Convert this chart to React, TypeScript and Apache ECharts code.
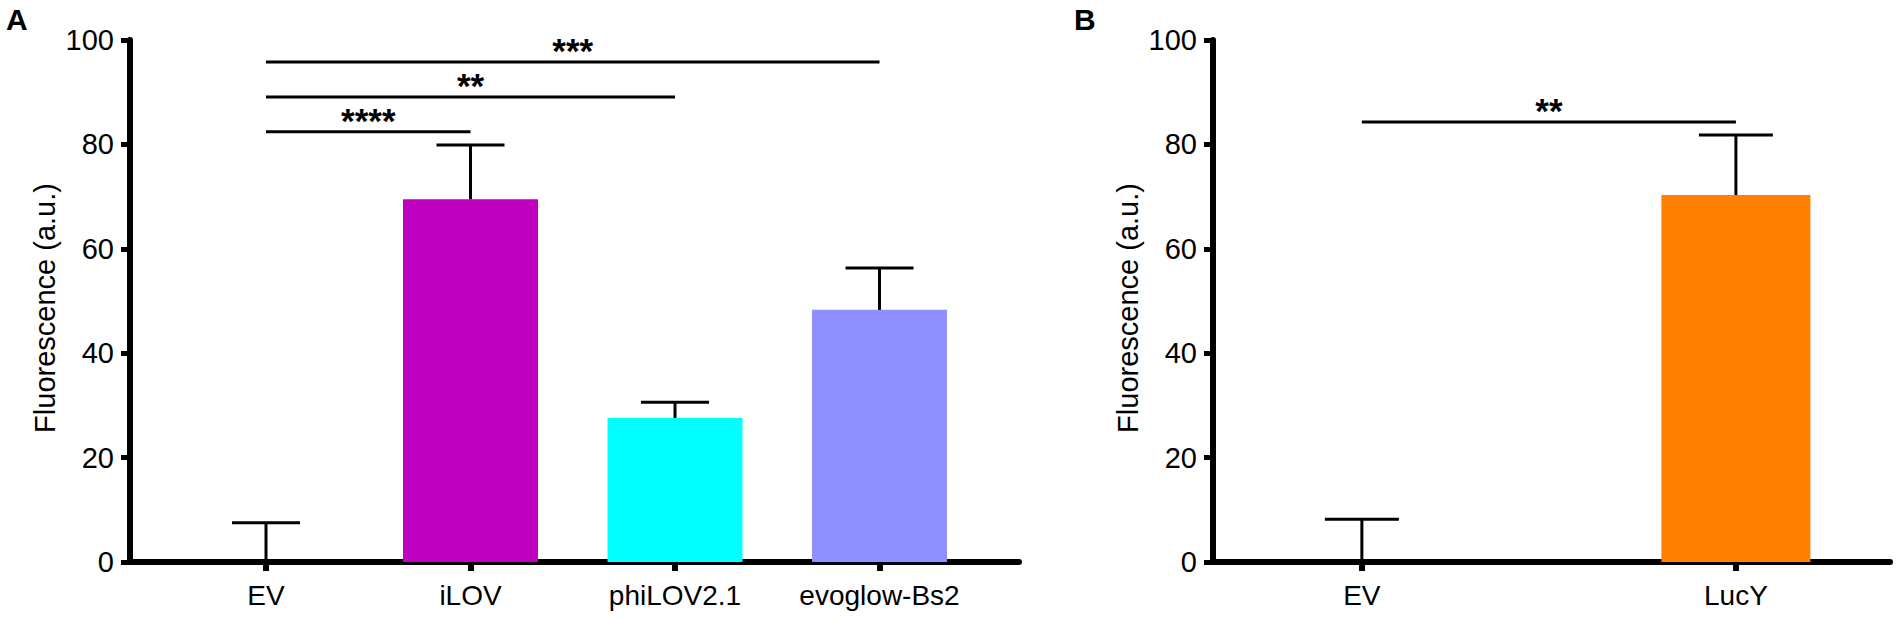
import React, { useEffect, useRef } from "react";
import * as echarts from "echarts";

const catsA = ["EV", "iLOV", "phiLOV2.1", "evoglow-Bs2"];
const meanA = [0, 69.5, 27.6, 48.3];
const errA = [7.5, 10.4, 3.0, 8.0];
const colorsA = ["#ffffff", "#BF00BF", "#00FFFF", "#8F8FFF"];

const catsB = ["EV", "LucY"];
const meanB = [0, 70.3];
const errB = [8.2, 11.5];
const colorsB = ["#ffffff", "#FF8000"];

const yTicks = [0, 20, 40, 60, 80, 100];

// significance brackets: from index, to index, height (a.u.), label
const sigFromA = [0, 0, 0];
const sigToA = [1, 2, 3];
const sigHeightA = [82.4, 89.1, 95.8];
const sigLabelA = ["****", "**", "***"];

const sigFromB = [0];
const sigToB = [1];
const sigHeightB = [84.3];
const sigLabelB = ["**"];

const FONT = "'Liberation Sans', Arial, Helvetica, sans-serif";

function errorSeries(gridIndex: number, means: number[], errs: number[], capHalf: number) {
  return {
    type: "custom",
    xAxisIndex: gridIndex,
    yAxisIndex: gridIndex,
    z: 5,
    silent: true,
    encode: { x: 0, y: 1 },
    data: means.map((m, i) => [i, m, errs[i]]),
    renderItem: (params: any, api: any) => {
      const x = api.value(0);
      const m = api.value(1);
      const e = api.value(2);
      const base = api.coord([x, m]);
      const top = api.coord([x, m + e]);
      const st = { stroke: "#000", lineWidth: 3 };
      return {
        type: "group",
        children: [
          { type: "line", shape: { x1: top[0], y1: base[1], x2: top[0], y2: top[1] }, style: st },
          { type: "line", shape: { x1: top[0] - capHalf, y1: top[1], x2: top[0] + capHalf, y2: top[1] }, style: st },
        ],
      };
    },
  };
}

function sigSeries(gridIndex: number, from: number[], to: number[], h: number[], labels: string[]) {
  return {
    type: "custom",
    xAxisIndex: gridIndex,
    yAxisIndex: gridIndex,
    z: 6,
    silent: true,
    encode: { x: [0, 1], y: 2 },
    data: from.map((f, i) => [f, to[i], h[i], i]),
    renderItem: (params: any, api: any) => {
      const p1 = api.coord([api.value(0), api.value(2)]);
      const p2 = api.coord([api.value(1), api.value(2)]);
      const label = labels[api.value(3)];
      return {
        type: "group",
        children: [
          { type: "line", shape: { x1: p1[0], y1: p1[1], x2: p2[0], y2: p2[1] }, style: { stroke: "#000", lineWidth: 3 } },
          {
            type: "text",
            x: (p1[0] + p2[0]) / 2,
            y: p1[1] + 6,
            style: {
              text: label,
              fontSize: 35,
              fontWeight: "bold",
              fontFamily: FONT,
              fill: "#000",
              align: "center",
              verticalAlign: "bottom",
              textAlign: "center",
              textVerticalAlign: "bottom",
            },
          },
        ],
      };
    },
  };
}

function xAxisCfg(gridIndex: number, cats: string[], min: number, max: number) {
  const idx = cats.map((_, i) => i);
  return {
    type: "value",
    gridIndex,
    min,
    max,
    splitLine: { show: false },
    axisLine: { show: true, onZero: false, lineStyle: { color: "#000", width: 6 } },
    axisTick: { show: true, customValues: idx, length: 9, lineStyle: { color: "#000", width: 6 } },
    axisLabel: {
      show: true,
      customValues: idx,
      formatter: (v: number) => cats[Math.round(v)] ?? "",
      color: "#000",
      fontSize: 28,
      fontFamily: FONT,
      margin: 19,
    },
  };
}

function yAxisCfg(gridIndex: number) {
  return {
    type: "value",
    gridIndex,
    min: yTicks[0],
    max: yTicks[yTicks.length - 1],
    interval: 20,
    name: "Fluorescence (a.u.)",
    nameLocation: "middle",
    nameGap: 71,
    nameRotate: 90,
    nameTextStyle: { color: "#000", fontSize: 29, fontFamily: FONT, padding: [0, 14, 0, 0] },
    splitLine: { show: false },
    axisLine: { show: true, onZero: false, lineStyle: { color: "#000", width: 6 } },
    axisTick: { show: true, length: 9, lineStyle: { color: "#000", width: 5 } },
    axisLabel: { color: "#000", fontSize: 29, fontFamily: FONT, margin: 16 },
  };
}

export default function App() {
  const ref = useRef<HTMLDivElement>(null);
  useEffect(() => {
    document.body.style.margin = "0";
    if (!ref.current) return;
    const chart = echarts.init(ref.current, null, { renderer: "svg" });
    const option = {
      animation: false,
      backgroundColor: "#ffffff",
      grid: [
        { left: 130, top: 40, width: 889, height: 522, containLabel: false },
        { left: 1213, top: 40, width: 677, height: 522, containLabel: false },
      ],
      xAxis: [xAxisCfg(0, catsA, -0.665, 3.682), xAxisCfg(1, catsB, -0.398, 1.412)],
      yAxis: [yAxisCfg(0), yAxisCfg(1)],
      graphic: [
        { type: "text", left: 6, top: 4, style: { text: "A", fontSize: 30, fontWeight: "bold", fontFamily: FONT, fill: "#000" } },
        { type: "text", left: 1074, top: 4, style: { text: "B", fontSize: 30, fontWeight: "bold", fontFamily: FONT, fill: "#000" } },
      ],
      series: [
        {
          type: "bar",
          xAxisIndex: 0,
          yAxisIndex: 0,
          barWidth: 135,
          data: meanA.map((m, i) => ({ value: [i, m], itemStyle: { color: colorsA[i] } })),
        },
        {
          type: "bar",
          xAxisIndex: 1,
          yAxisIndex: 1,
          barWidth: 149,
          data: meanB.map((m, i) => ({ value: [i, m], itemStyle: { color: colorsB[i] } })),
        },
        errorSeries(0, meanA, errA, 34),
        errorSeries(1, meanB, errB, 37),
        sigSeries(0, sigFromA, sigToA, sigHeightA, sigLabelA),
        sigSeries(1, sigFromB, sigToB, sigHeightB, sigLabelB),
      ],
    };
    chart.setOption(option as any);
    return () => chart.dispose();
  }, []);
  return <div ref={ref} style={{ width: "1897px", height: "619px" }} />;
}
